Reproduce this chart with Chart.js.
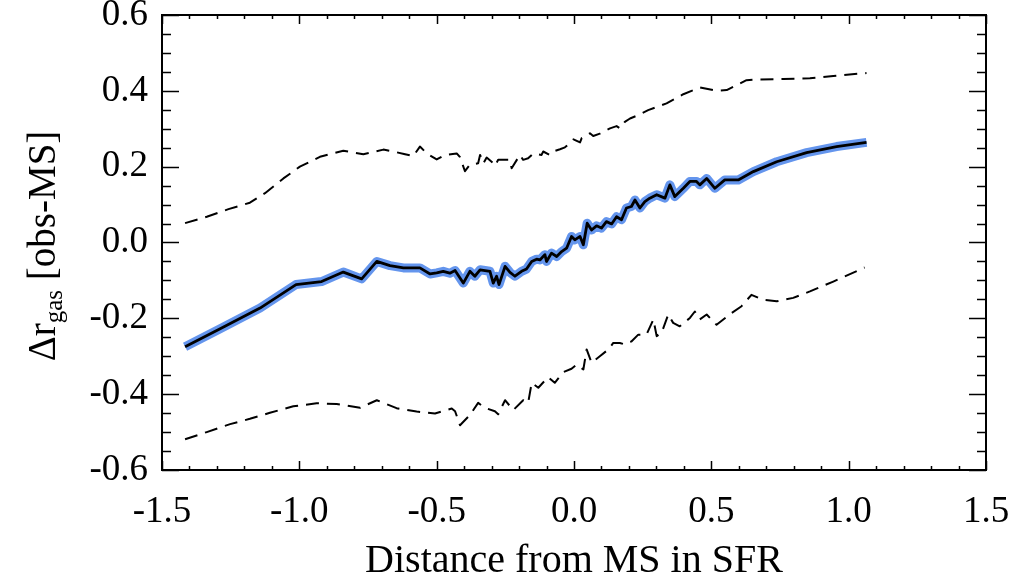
<!DOCTYPE html>
<html>
<head>
<meta charset="utf-8">
<script src="https://cdn.jsdelivr.net/npm/chart.js@4"></script>
<style>
  html, body { margin: 0; padding: 0; background: #fff; }
  #wrap { width: 1015px; height: 574px; }
</style>
</head>
<body>
<div id="wrap"><canvas id="gasChart"></canvas></div>
<script>
// median offset (black line, blue band)
var medX = [-1.416, -1.29, -1.143, -1.012, -0.919, -0.84, -0.773, -0.718, -0.67, -0.621,
    -0.561, -0.524, -0.5, -0.476, -0.452, -0.433, -0.403, -0.379, -0.361, -0.342,
    -0.306, -0.294, -0.282, -0.273, -0.251, -0.233, -0.215, -0.191, -0.173, -0.154,
    -0.136, -0.124, -0.106, -0.1, -0.082, -0.063, -0.045, -0.027, -0.009, 0.003,
    0.022, 0.034, 0.048, 0.064, 0.082, 0.1, 0.118, 0.137, 0.155, 0.173,
    0.191, 0.209, 0.222, 0.24, 0.258, 0.276, 0.301, 0.331, 0.349, 0.367,
    0.398, 0.422, 0.446, 0.458, 0.483, 0.513, 0.549, 0.598, 0.653, 0.738,
    0.847, 0.956, 1.065];
var medY = [-0.275, -0.228, -0.173, -0.111, -0.103, -0.078, -0.096, -0.050, -0.061, -0.067,
    -0.067, -0.083, -0.08, -0.076, -0.081, -0.074, -0.107, -0.076, -0.089, -0.072,
    -0.076, -0.107, -0.089, -0.111, -0.063, -0.079, -0.089, -0.076, -0.070, -0.050,
    -0.044, -0.046, -0.032, -0.050, -0.028, -0.037, -0.024, -0.015, 0.016, 0.007,
    0.016, -0.006, 0.051, 0.033, 0.044, 0.038, 0.055, 0.049, 0.068, 0.060,
    0.091, 0.095, 0.112, 0.091, 0.108, 0.117, 0.126, 0.117, 0.152, 0.121,
    0.143, 0.161, 0.161, 0.152, 0.169, 0.143, 0.165, 0.165, 0.187, 0.213,
    0.237, 0.253, 0.264];

// upper envelope (dashed)
var upX = [-1.416, -1.337, -1.258, -1.18, -1.125, -1.058, -0.998, -0.925, -0.84, -0.767,
    -0.694, -0.658, -0.615, -0.585, -0.561, -0.536, -0.5, -0.47, -0.427, -0.415,
    -0.397, -0.379, -0.349, -0.342, -0.33, -0.318, -0.3, -0.288, -0.276, -0.233,
    -0.227, -0.197, -0.185, -0.167, -0.148, -0.118, -0.112, -0.088, -0.076, -0.051,
    -0.033, -0.009, -0.002, 0.022, 0.028, 0.058, 0.07, 0.094, 0.118, 0.131,
    0.155, 0.167, 0.185, 0.204, 0.234, 0.27, 0.337, 0.398, 0.458, 0.519,
    0.556, 0.628, 0.671, 0.762, 0.859, 0.944, 1.065];
var upY = [0.051, 0.068, 0.088, 0.105, 0.130, 0.169, 0.2, 0.226, 0.242, 0.233,
    0.245, 0.24, 0.233, 0.228, 0.253, 0.235, 0.219, 0.231, 0.235, 0.225,
    0.188, 0.205, 0.209, 0.231, 0.209, 0.224, 0.213, 0.202, 0.218, 0.218,
    0.196, 0.231, 0.218, 0.222, 0.235, 0.231, 0.24, 0.231, 0.24, 0.246,
    0.251, 0.266, 0.272, 0.264, 0.275, 0.288, 0.281, 0.287, 0.296, 0.301,
    0.307, 0.301, 0.318, 0.327, 0.336, 0.349, 0.367, 0.391, 0.409, 0.4,
    0.402, 0.428, 0.43, 0.431, 0.433, 0.439, 0.447];

// lower envelope (dashed)
var loX = [-1.416, -1.337, -1.252, -1.18, -1.107, -1.022, -0.937, -0.864, -0.779, -0.718,
    -0.646, -0.573, -0.506, -0.445, -0.433, -0.415, -0.379, -0.349, -0.324, -0.288,
    -0.276, -0.251, -0.221, -0.185, -0.167, -0.154, -0.13, -0.094, -0.07, -0.039,
    -0.009, 0.01, 0.034, 0.046, 0.064, 0.094, 0.125, 0.143, 0.167, 0.185,
    0.209, 0.234, 0.264, 0.289, 0.301, 0.319, 0.343, 0.361, 0.385, 0.422,
    0.44, 0.458, 0.483, 0.519, 0.574, 0.61, 0.646, 0.689, 0.738, 0.798,
    0.859, 0.944, 1.058];
var loY = [-0.519, -0.5, -0.479, -0.465, -0.449, -0.432, -0.424, -0.426, -0.436, -0.416,
    -0.437, -0.446, -0.451, -0.438, -0.445, -0.482, -0.455, -0.423, -0.436, -0.445,
    -0.453, -0.416, -0.442, -0.416, -0.423, -0.370, -0.383, -0.355, -0.370, -0.342,
    -0.333, -0.322, -0.335, -0.282, -0.317, -0.3, -0.282, -0.265, -0.265, -0.269,
    -0.261, -0.243, -0.243, -0.203, -0.247, -0.238, -0.19, -0.212, -0.221, -0.199,
    -0.182, -0.203, -0.19, -0.217, -0.186, -0.168, -0.138, -0.151, -0.155, -0.146,
    -0.129, -0.103, -0.066];

// axes
var xRange = [-1.5, 1.5];
var yRange = [-0.6, 0.6];
var xMajor = [-1.5, -1.0, -0.5, 0.0, 0.5, 1.0, 1.5];
var yMajor = [-0.6, -0.4, -0.2, 0.0, 0.2, 0.4, 0.6];
var xTitle = 'Distance from MS in SFR';

var serif = "'Liberation Serif', 'Times New Roman', serif";

function pts(xs, ys) {
    return xs.map(function (x, i) { return { x: x, y: ys[i] }; });
}

// frame + inward ticks (IDL style)
var framePlugin = {
    id: 'frame',
    afterDraw: function (chart) {
        var ctx = chart.ctx, a = chart.chartArea;
        var xs = chart.scales.x, ys = chart.scales.y;
        ctx.save();
        ctx.strokeStyle = '#000';
        ctx.lineWidth = 2;
        ctx.strokeRect(a.left, a.top, a.right - a.left, a.bottom - a.top);
        ctx.lineWidth = 1.5;
        ctx.beginPath();
        for (var i = 0; i <= 30; i++) {
            var v = -1.5 + i * 0.1;
            var px = Math.round(xs.getPixelForValue(v)) + 0.5;
            var len = (i % 5 === 0) ? 9 : 4;
            ctx.moveTo(px, a.bottom); ctx.lineTo(px, a.bottom - len);
            ctx.moveTo(px, a.top); ctx.lineTo(px, a.top + len);
        }
        for (var j = 0; j <= 24; j++) {
            var w = -0.6 + j * 0.05;
            var py = Math.round(ys.getPixelForValue(w)) + 0.5;
            var l2 = (j % 4 === 0) ? 17 : 9;
            ctx.moveTo(a.left, py); ctx.lineTo(a.left + l2, py);
            ctx.moveTo(a.right, py); ctx.lineTo(a.right - l2, py);
        }
        ctx.stroke();

        // y title with subscript
        ctx.fillStyle = '#000';
        ctx.translate(55, 246);
        ctx.rotate(-Math.PI / 2);
        ctx.textBaseline = 'alphabetic';
        var big = '39px ' + serif, small = '25px ' + serif;
        ctx.font = big;
        var w1 = ctx.measureText('\u0394r').width;
        var w3 = ctx.measureText(' [obs-MS]').width;
        ctx.font = small;
        var w2 = ctx.measureText('gas').width;
        var x0 = -(w1 + w2 + w3) / 2;
        ctx.font = big;
        ctx.fillText('\u0394r', x0, 0);
        ctx.font = small;
        ctx.fillText('gas', x0 + w1, 7);
        ctx.font = big;
        ctx.fillText(' [obs-MS]', x0 + w1 + w2, 0);
        ctx.restore();
    }
};

document.addEventListener('DOMContentLoaded', function () {
    var ctx = document.getElementById('gasChart').getContext('2d');
    var gasChart = new Chart(ctx, {
        type: 'line',
        data: {
            datasets: [{
                label: 'median',
                data: pts(medX, medY),
                borderColor: '#000',
                borderWidth: 2.8,
                order: 0
            }, {
                label: 'error',
                data: pts(medX, medY),
                borderColor: 'rgb(100, 149, 237)',
                borderWidth: 9,
                order: 2
            }, {
                label: 'upper',
                data: pts(upX, upY),
                borderColor: '#000',
                borderWidth: 2,
                borderDash: [13, 8],
                order: 1
            }, {
                label: 'lower',
                data: pts(loX, loY),
                borderColor: '#000',
                borderWidth: 2,
                borderDash: [13, 8],
                order: 1
            }]
        },
        options: {
            responsive: true,
            maintainAspectRatio: false,
            animation: false,
            layout: { autoPadding: false, padding: { left: 0, right: 29, top: 15, bottom: 0 } },
            elements: {
                point: { radius: 0 },
                line: { tension: 0, fill: false, borderJoinStyle: 'round', borderCapStyle: 'butt' }
            },
            plugins: {
                legend: { display: false },
                tooltip: { enabled: false }
            },
            scales: {
                x: {
                    type: 'linear',
                    min: xRange[0],
                    max: xRange[1],
                    afterFit: function (s) { s.height = 104; s.paddingLeft = 0; s.paddingRight = 0; },
                    afterBuildTicks: function (s) { s.ticks = xMajor.map(function (v) { return { value: v }; }); },
                    grid: { display: false, drawTicks: false },
                    border: { display: false },
                    ticks: {
                        padding: 20,
                        color: '#000',
                        maxRotation: 0,
                        font: { family: serif, size: 37 },
                        callback: function (v) { return (Math.abs(v) < 1e-9 ? 0 : v).toFixed(1); }
                    },
                    title: {
                        display: true,
                        text: xTitle,
                        color: '#000',
                        font: { family: serif, size: 40, lineHeight: 0.65 },
                        padding: 0
                    }
                },
                y: {
                    type: 'linear',
                    min: yRange[0],
                    max: yRange[1],
                    afterFit: function (s) { s.width = 162; s.paddingTop = 0; s.paddingBottom = 0; },
                    afterBuildTicks: function (s) { s.ticks = yMajor.map(function (v) { return { value: v }; }); },
                    grid: { display: false, drawTicks: false },
                    border: { display: false },
                    ticks: {
                        padding: 14,
                        color: '#000',
                        font: { family: serif, size: 37 },
                        callback: function (v) { return (Math.abs(v) < 1e-9 ? 0 : v).toFixed(1); }
                    }
                }
            }
        },
        plugins: [framePlugin]
    });
});
</script>
</body>
</html>
